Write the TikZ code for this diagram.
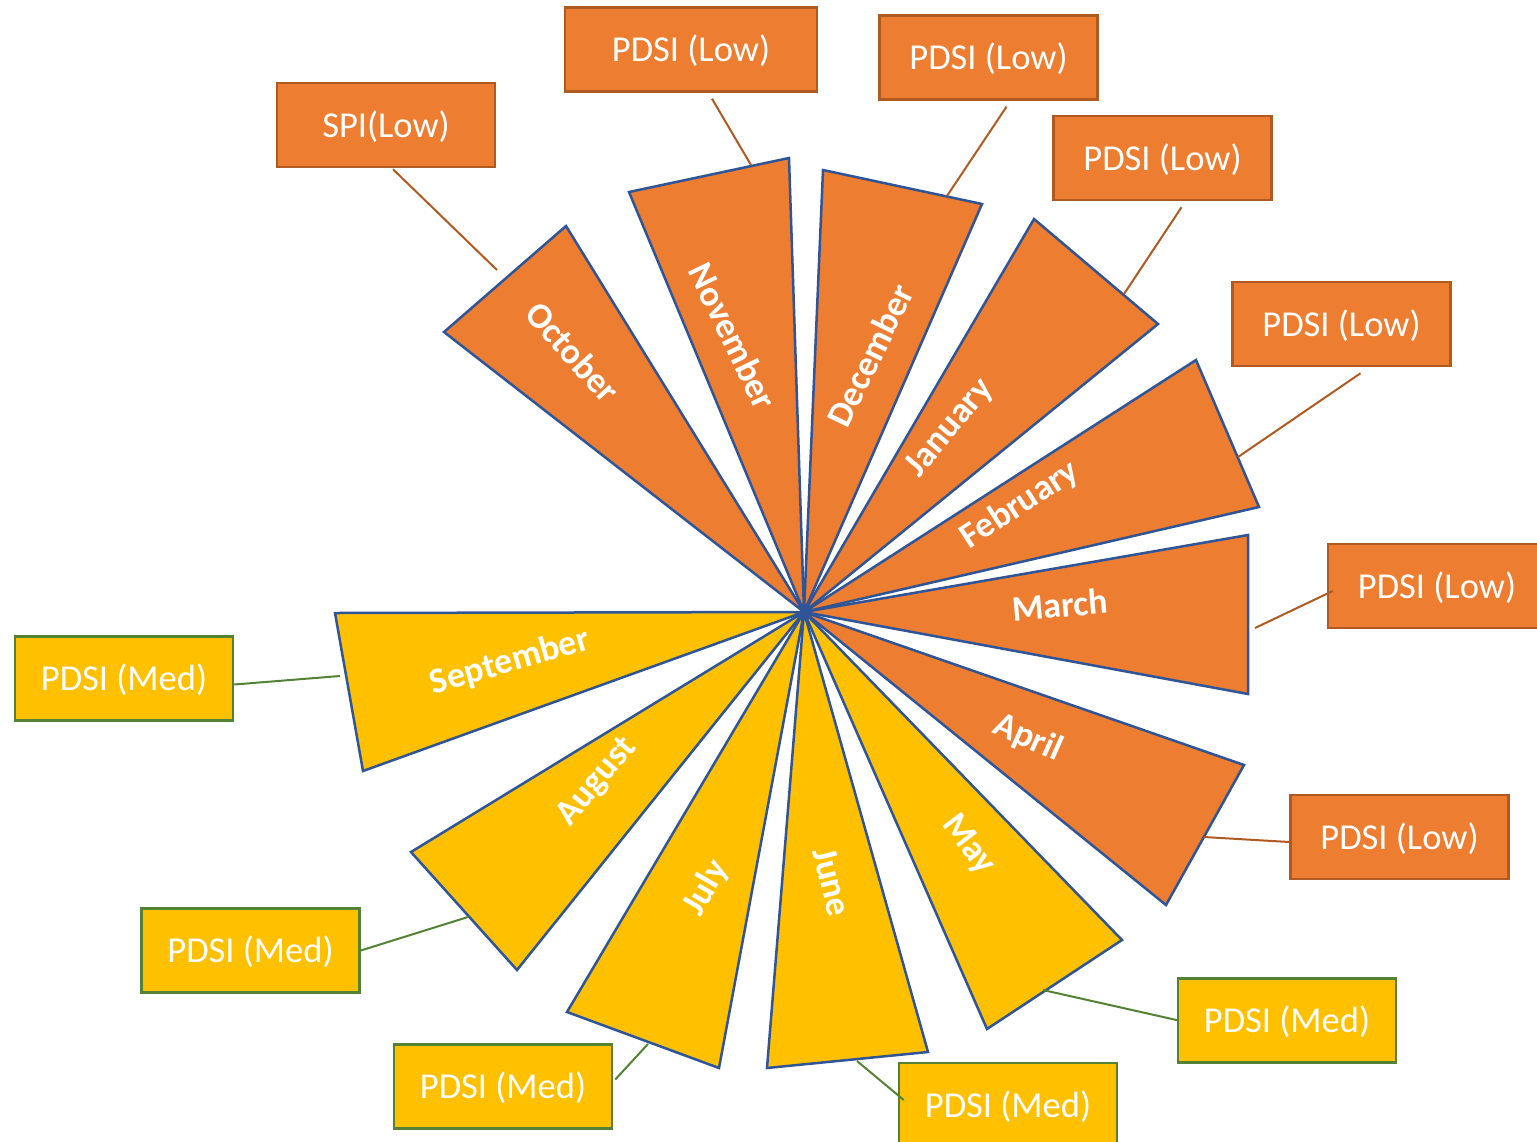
\documentclass[tikz,border=0pt]{standalone}
\usepackage{fontspec}
\setmainfont{Carlito}
\usepackage{tikz}
\usetikzlibrary{calc}
\definecolor{PdsiOrange}{HTML}{ED7D31}
\definecolor{PdsiYellow}{HTML}{FFC000}
\definecolor{PdsiEdge}{HTML}{2F5597}
\definecolor{PdsiRust}{HTML}{AE5A21}
\definecolor{PdsiGreen}{HTML}{548235}

\begin{document}
\begin{tikzpicture}[x=1pt,y=-1pt]
  \tikzstyle{wedge}=[draw=PdsiEdge, line width=2.5pt, line join=miter]
  \tikzstyle{month}=[text=white, inner sep=0pt, font=\fontsize{36}{40}\selectfont\bfseries]
  \tikzstyle{lowbox}=[draw=PdsiRust, line width=2.5pt, fill=PdsiOrange, text=white, minimum width=218pt, minimum height=84pt, text height=32pt, text depth=8pt, font=\fontsize{36.5}{40}\selectfont]
  \tikzstyle{medbox}=[lowbox, draw=PdsiGreen, fill=PdsiYellow]
  \tikzstyle{lowpin}=[draw=PdsiRust, line width=2pt]
  \tikzstyle{medpin}=[draw=PdsiGreen, line width=2pt]
  \useasboundingbox (0,0) rectangle (1537,1141);
  \coordinate (o) at (804,612);
  % wedges, October round to September
  \filldraw[wedge, fill=PdsiOrange] (o) -- (444,332) -- (566,226) -- cycle;
  \filldraw[wedge, fill=PdsiOrange] (o) -- (629,192) -- (789,158) -- cycle;
  \filldraw[wedge, fill=PdsiOrange] (o) -- (823,170) -- (982,204) -- cycle;
  \filldraw[wedge, fill=PdsiOrange] (o) -- (1034,219) -- (1158,324) -- cycle;
  \filldraw[wedge, fill=PdsiOrange] (o) -- (1196,360) -- (1259,507) -- cycle;
  \filldraw[wedge, fill=PdsiOrange] (o) -- (1248,535) -- (1248,694) -- cycle;
  \filldraw[wedge, fill=PdsiOrange] (o) -- (1244,765) -- (1166,905) -- cycle;
  \filldraw[wedge, fill=PdsiYellow] (o) -- (1122,940) -- (987,1029) -- cycle;
  \filldraw[wedge, fill=PdsiYellow] (o) -- (928,1052) -- (767,1068) -- cycle;
  \filldraw[wedge, fill=PdsiYellow] (o) -- (719,1068) -- (567,1012) -- cycle;
  \filldraw[wedge, fill=PdsiYellow] (o) -- (517,970) -- (411,852) -- cycle;
  \filldraw[wedge, fill=PdsiYellow] (o) -- (363,771) -- (335,613) -- cycle;
  \node[month, rotate=-48] (octname) at (573,352) {October};
  \node[month, rotate=-64] (novname) at (733,336) {November};
  \node[month, rotate=64] (decname) at (870,355) {December};
  \node[month, rotate=50] (janname) at (950,428) {January};
  \node[month, rotate=33] (febname) at (1020,505) {February};
  \node[month, rotate=5] (marname) at (1060,605) {March};
  \node[month, rotate=-24] (aprname) at (1028,738) {April};
  \node[month, rotate=-53] (mayname) at (968,845) {May};
  \node[month, rotate=-76] (junname) at (832,882) {June};
  \node[month, rotate=60] (julname) at (706,888) {July};
  \node[month, rotate=50] (augname) at (597,782) {August};
  \node[month, rotate=16] (sepname) at (510,662) {September};
  % index boxes
  \node[lowbox] (spi) at (386,125) {SPI(Low)};
  \node[lowbox, minimum width=252pt] (novbox) at (691,49.5) {PDSI (Low)};
  \node[lowbox] (decbox) at (988.5,57.5) {PDSI (Low)};
  \node[lowbox] (janbox) at (1162.5,158) {PDSI (Low)};
  \node[lowbox] (febbox) at (1341.5,324) {PDSI (Low)};
  \node[lowbox] (marbox) at (1437,586) {PDSI (Low)};
  \node[lowbox] (aprbox) at (1399.5,837) {PDSI (Low)};
  \node[medbox] (maybox) at (1287,1020.5) {PDSI (Med)};
  \node[medbox] (junbox) at (1008,1105) {PDSI (Med)};
  \node[medbox] (julbox) at (503,1086.5) {PDSI (Med)};
  \node[medbox] (augbox) at (250.5,950.5) {PDSI (Med)};
  \node[medbox] (sepbox) at (124,678.5) {PDSI (Med)};
  \coordinate (octpin) at (497,270);
  \coordinate (novpin) at (751,165);
  \coordinate (decpin) at (947,196);
  \coordinate (janpin) at (1124,294);
  \coordinate (febpin) at (1238,457);
  \coordinate (marpin) at (1255,628);
  \coordinate (aprpin) at (1204,837);
  \coordinate (maypin) at (1043,990);
  \coordinate (junpin) at (857,1061);
  \coordinate (julpin) at (648,1044);
  \coordinate (augpin) at (468,917);
  \coordinate (seppin) at (340,676);
  \draw[lowpin] ([xshift=7pt,yshift=-1pt]spi.south) -- (octpin);
  \draw[lowpin] ([xshift=21pt,yshift=-6pt]novbox.south) -- (novpin);
  \draw[lowpin] ([xshift=18pt,yshift=-6pt]decbox.south) -- (decpin);
  \draw[lowpin] ([xshift=19pt,yshift=-6pt]janbox.south) -- (janpin);
  \draw[lowpin] ([xshift=19pt,yshift=-6pt]febbox.south) -- (febpin);
  \draw[lowpin] ([xshift=6pt,yshift=-5pt]marbox.west) -- (marpin);
  \draw[lowpin] ([yshift=-5pt]aprbox.west) -- (aprpin);
  \draw[medpin] ([xshift=2pt]maybox.west) -- (maypin);
  \draw[medpin] ([xshift=6pt,yshift=5pt]junbox.west) -- (junpin);
  \draw[medpin] ([xshift=2pt,yshift=7pt]julbox.east) -- (julpin);
  \draw[medpin] (augbox.east) -- (augpin);
  \draw[medpin] ([yshift=-6pt]sepbox.east) -- (seppin);
\end{tikzpicture}
\end{document}
